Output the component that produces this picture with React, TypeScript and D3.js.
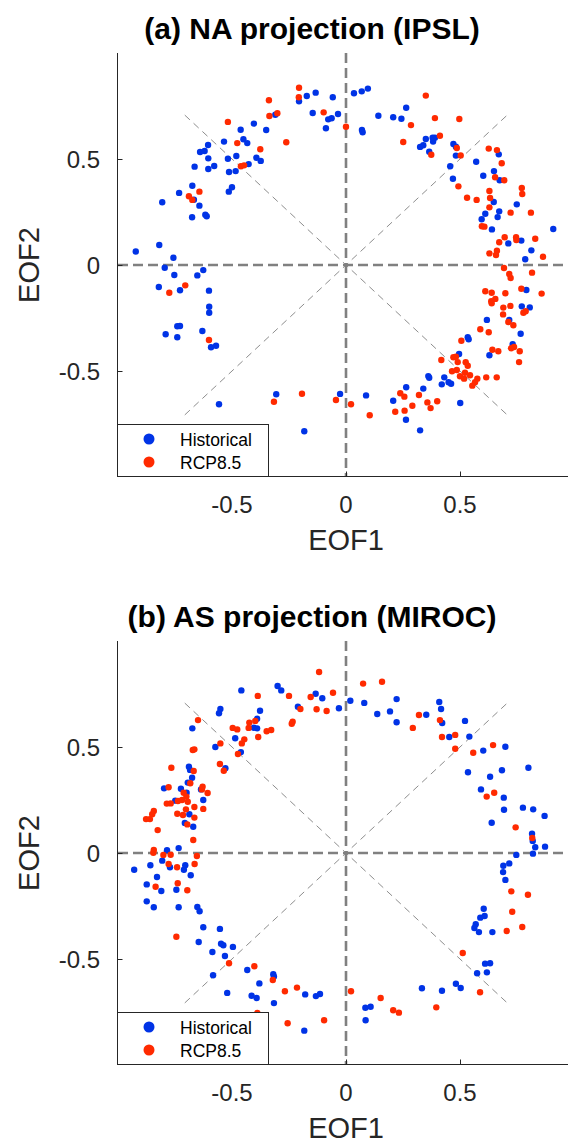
import React from 'react';
import * as d3 from 'd3';

// ---- data (EOF1 / EOF2 projections) ----
const tickValues = [-0.5, 0, 0.5];
const seriesNames = ['Historical', 'RCP8.5'];
const seriesColors = ['#0033e6', '#ff2a00'];
const panelTitles = ['(a) NA projection (IPSL)', '(b) AS projection (MIROC)'];

const naHistEof1 = [-0.172, -0.133, -0.058, -0.206, -0.146, -0.078, -0.063, -0.035, -0.088, -0.310, -0.350, -0.404, -0.462, -0.450, -0.433, -0.535, -0.605, -0.640, -0.620, -0.604, -0.518, -0.481, -0.393, -0.374, -0.427, -0.664, -0.604, -0.578, -0.513, -0.484, -0.500, -0.514, -0.674, -0.732, -0.806, -0.667, -0.643, -0.675, -0.617, -0.611, -0.922, -0.819, -0.757, 0.035, 0.069, 0.096, 0.070, 0.073, 0.142, 0.207, 0.243, 0.264, 0.350, 0.380, 0.390, 0.325, 0.339, 0.382, 0.365, 0.471, 0.482, 0.482, 0.457, 0.469, 0.571, 0.670, 0.649, 0.602, 0.674, 0.648, 0.749, 0.672, 0.611, 0.665, 0.595, 0.640, 0.909, 0.712, 0.769, 0.813, 0.786, -0.795, -0.753, -0.652, -0.626, -0.821, -0.728, -0.601, -0.600, -0.600, -0.740, -0.728, -0.791, -0.740, -0.630, -0.592, -0.570, -0.557, -0.306, -0.026, -0.183, 0.791, 0.771, 0.806, 0.618, 0.716, 0.766, 0.534, 0.538, 0.731, 0.629, 0.496, 0.361, 0.365, 0.431, 0.420, 0.450, 0.461, 0.339, 0.264, 0.088, 0.207, 0.501, 0.263, 0.325];
const naHistEof2 = [0.797, 0.813, 0.791, 0.772, 0.717, 0.687, 0.692, 0.712, 0.645, 0.709, 0.637, 0.667, 0.638, 0.593, 0.575, 0.582, 0.566, 0.533, 0.538, 0.503, 0.501, 0.514, 0.506, 0.491, 0.476, 0.464, 0.453, 0.467, 0.439, 0.443, 0.367, 0.346, 0.374, 0.340, 0.296, 0.308, 0.280, 0.225, 0.237, 0.230, 0.064, 0.094, 0.034, 0.810, 0.819, 0.832, 0.637, 0.626, 0.704, 0.697, 0.690, 0.742, 0.594, 0.600, 0.600, 0.557, 0.565, 0.582, 0.534, 0.571, 0.558, 0.516, 0.466, 0.407, 0.487, 0.522, 0.443, 0.421, 0.400, 0.297, 0.286, 0.253, 0.242, 0.226, 0.216, 0.168, 0.170, 0.102, 0.115, 0.069, 0.027, -0.013, -0.047, -0.049, -0.024, -0.104, -0.119, -0.121, -0.197, -0.225, -0.289, -0.288, -0.327, -0.341, -0.311, -0.388, -0.381, -0.657, -0.610, -0.608, -0.784, -0.118, -0.195, -0.200, -0.259, -0.259, -0.324, -0.341, -0.350, -0.373, -0.426, -0.420, -0.524, -0.532, -0.530, -0.563, -0.553, -0.560, -0.583, -0.577, -0.615, -0.640, -0.651, -0.730, -0.780];

const naRcpEof1 = [-0.206, -0.207, -0.338, -0.336, -0.301, -0.098, 0.000, -0.518, -0.262, -0.477, -0.376, -0.461, -0.447, -0.643, -0.689, -0.674, 0.350, 0.390, 0.497, 0.285, 0.251, 0.412, 0.374, 0.486, 0.503, 0.626, 0.662, 0.683, 0.654, 0.694, 0.493, 0.531, 0.573, 0.629, 0.632, 0.629, 0.771, 0.773, 0.722, 0.811, 0.596, 0.607, 0.696, 0.672, 0.746, 0.747, 0.830, 0.629, 0.662, 0.658, 0.864, -0.705, -0.775, -0.601, -0.193, -0.316, -0.044, 0.022, 0.693, 0.716, 0.722, 0.816, 0.611, 0.639, 0.699, 0.655, 0.637, 0.639, 0.769, 0.858, 0.690, 0.721, 0.689, 0.778, 0.788, 0.712, 0.734, 0.589, 0.626, 0.506, 0.642, 0.668, 0.724, 0.737, 0.762, 0.759, 0.418, 0.471, 0.482, 0.490, 0.525, 0.534, 0.465, 0.486, 0.522, 0.500, 0.518, 0.544, 0.576, 0.566, 0.554, 0.615, 0.661, 0.238, 0.256, 0.320, 0.357, 0.400, 0.371, 0.291, 0.257, 0.216, 0.104];
const naRcpEof2 = [0.836, 0.791, 0.777, 0.703, 0.716, 0.720, 0.652, 0.675, 0.579, 0.575, 0.546, 0.466, 0.470, 0.346, 0.324, 0.307, 0.799, 0.693, 0.689, 0.660, 0.580, 0.610, 0.520, 0.552, 0.517, 0.549, 0.542, 0.480, 0.414, 0.400, 0.371, 0.317, 0.307, 0.349, 0.316, 0.272, 0.363, 0.335, 0.247, 0.247, 0.183, 0.181, 0.131, 0.107, 0.131, 0.118, 0.124, 0.055, 0.067, 0.047, 0.039, -0.096, -0.131, -0.354, -0.607, -0.645, -0.637, -0.657, -0.014, -0.042, -0.061, -0.036, -0.124, -0.131, -0.133, -0.160, -0.171, -0.181, -0.112, -0.135, -0.201, -0.193, -0.233, -0.225, -0.218, -0.269, -0.284, -0.303, -0.317, -0.357, -0.400, -0.407, -0.393, -0.387, -0.407, -0.458, -0.448, -0.435, -0.433, -0.458, -0.459, -0.475, -0.501, -0.495, -0.508, -0.525, -0.536, -0.520, -0.536, -0.553, -0.569, -0.530, -0.530, -0.605, -0.621, -0.613, -0.648, -0.643, -0.675, -0.664, -0.687, -0.692, -0.709];

const asHistEof1 = [-0.459, -0.300, -0.284, -0.133, -0.104, -0.211, -0.031, 0.019, -0.551, -0.557, -0.377, -0.390, -0.404, -0.390, -0.674, -0.486, -0.573, -0.461, -0.689, -0.684, -0.529, -0.675, -0.694, -0.798, -0.724, -0.636, -0.699, -0.749, -0.626, -0.687, -0.707, -0.670, -0.785, -0.734, 0.080, 0.137, 0.193, 0.222, 0.222, 0.352, 0.409, 0.417, 0.422, 0.453, 0.522, 0.541, 0.602, 0.699, 0.535, 0.632, 0.684, 0.800, 0.592, 0.692, 0.693, 0.776, 0.821, 0.871, 0.639, 0.816, 0.819, 0.830, 0.873, 0.820, 0.747, 0.690, 0.716, 0.689, 0.699, 0.604, 0.589, 0.608, 0.569, 0.563, 0.583, 0.642, 0.610, 0.632, 0.618, 0.575, 0.482, 0.503, 0.333, 0.421, 0.085, 0.108, 0.086, -0.929, -0.858, -0.806, -0.772, -0.705, -0.711, -0.681, -0.829, -0.874, -0.810, -0.744, -0.874, -0.843, -0.734, -0.652, -0.642, -0.626, -0.553, -0.646, -0.548, -0.538, -0.496, -0.586, -0.531, -0.433, -0.319, -0.316, -0.583, -0.380, -0.521, -0.414, -0.392, -0.316, -0.179, -0.132, -0.114, -0.183];
const asHistEof2 = [0.767, 0.788, 0.767, 0.751, 0.730, 0.690, 0.683, 0.718, 0.679, 0.659, 0.671, 0.633, 0.591, 0.588, 0.588, 0.541, 0.500, 0.476, 0.407, 0.392, 0.400, 0.355, 0.332, 0.305, 0.303, 0.300, 0.284, 0.247, 0.250, 0.183, 0.142, 0.124, 0.013, 0.023, 0.708, 0.656, 0.668, 0.726, 0.617, 0.652, 0.712, 0.679, 0.613, 0.547, 0.623, 0.549, 0.483, 0.501, 0.381, 0.360, 0.390, 0.402, 0.300, 0.261, 0.204, 0.214, 0.206, 0.175, 0.143, 0.091, 0.057, 0.027, 0.030, -0.003, -0.009, -0.060, -0.049, -0.090, -0.127, -0.263, -0.305, -0.297, -0.336, -0.354, -0.373, -0.373, -0.522, -0.520, -0.563, -0.567, -0.617, -0.637, -0.638, -0.650, -0.730, -0.725, -0.789, -0.079, -0.058, -0.036, -0.067, -0.058, -0.079, -0.105, -0.113, -0.148, -0.179, -0.173, -0.228, -0.256, -0.256, -0.255, -0.275, -0.350, -0.358, -0.420, -0.428, -0.435, -0.443, -0.467, -0.486, -0.552, -0.572, -0.583, -0.577, -0.615, -0.660, -0.673, -0.684, -0.708, -0.667, -0.675, -0.665, -0.838];

const asRcpEof1 = [-0.118, -0.387, -0.250, -0.155, -0.057, -0.200, -0.129, -0.085, -0.234, -0.238, -0.649, -0.424, -0.398, -0.427, -0.497, -0.477, -0.328, -0.348, -0.385, -0.446, -0.457, -0.551, -0.474, -0.672, -0.665, -0.766, -0.553, -0.536, -0.668, -0.683, -0.778, -0.629, -0.632, -0.607, -0.712, -0.700, -0.694, -0.786, -0.769, -0.737, -0.719, -0.665, -0.626, -0.702, -0.843, -0.850, -0.877, -0.860, -0.740, -0.715, -0.665, -0.696, -0.826, -0.670, -0.843, 0.158, 0.075, 0.320, 0.293, 0.412, 0.421, 0.479, 0.479, 0.558, 0.645, 0.617, 0.650, 0.744, 0.817, 0.725, 0.798, 0.729, 0.773, 0.705, 0.512, 0.588, 0.022, 0.152, 0.207, 0.232, 0.396, -0.845, -0.801, -0.769, -0.778, -0.741, -0.654, -0.664, -0.835, -0.738, -0.696, -0.744, -0.513, -0.402, -0.321, -0.268, -0.215, -0.389, -0.256, -0.096];
const asRcpEof2 = [0.854, 0.741, 0.741, 0.736, 0.756, 0.679, 0.678, 0.670, 0.619, 0.610, 0.627, 0.615, 0.623, 0.590, 0.590, 0.583, 0.580, 0.574, 0.547, 0.536, 0.517, 0.517, 0.467, 0.486, 0.489, 0.402, 0.420, 0.388, 0.387, 0.329, 0.310, 0.313, 0.300, 0.283, 0.284, 0.266, 0.242, 0.233, 0.234, 0.245, 0.250, 0.217, 0.208, 0.206, 0.198, 0.183, 0.160, 0.160, 0.185, 0.179, 0.167, 0.135, 0.108, 0.061, 0.014, 0.808, 0.799, 0.651, 0.590, 0.627, 0.547, 0.557, 0.492, 0.473, 0.509, 0.266, 0.284, 0.121, 0.071, -0.181, -0.197, -0.277, -0.349, -0.368, -0.472, -0.657, -0.652, -0.684, -0.742, -0.753, -0.728, 0.001, -0.009, -0.008, -0.052, -0.067, -0.014, -0.052, -0.159, -0.143, -0.176, -0.395, -0.520, -0.534, -0.599, -0.652, -0.635, -0.755, -0.803, -0.789];

// ---- layout ----
const W = 568;
const H = 1142;
const PANEL_STEP = 588;
const FONT = 'Liberation Sans, Arial, Helvetica, sans-serif';
const AXIS_COLOR = '#262626';
const GUIDE_COLOR = '#808080';

function Panel({ offset, title, histX, histY, rcpX, rcpY }) {
  const x = d3.scaleLinear().domain([-1, 1]).range([118, 574]);
  const y = d3.scaleLinear().domain([-1, 1]).range([477 + offset, 53 + offset]);
  const d = Math.SQRT1_2;
  const axisLeft = 117.5;
  const axisBottom = y(-1) - 0.5;

  const hist = histX.map((v, i) => [v, histY[i]]);
  const rcp = rcpX.map((v, i) => [v, rcpY[i]]);

  const legTop = axisBottom - 52;

  return (
    <g>
      <text x={312} y={39 + offset} textAnchor="middle" fontFamily={FONT}
        fontWeight="bold" fontSize={30} fill="#000">{title}</text>

      {/* thin diagonal guides */}
      <g stroke={GUIDE_COLOR} strokeWidth={0.9} strokeDasharray="7 5" fill="none">
        <line x1={x(-d)} y1={y(d)} x2={x(d)} y2={y(-d)} />
        <line x1={x(-d)} y1={y(-d)} x2={x(d)} y2={y(d)} />
      </g>
      {/* thick zero lines */}
      <g stroke={GUIDE_COLOR} strokeWidth={2.6} strokeDasharray="10 5" fill="none">
        <line x1={x(0)} y1={y(1)} x2={x(0)} y2={y(-1)} />
        <line x1={x(-1)} y1={y(0)} x2={x(1)} y2={y(0)} />
      </g>

      <g fill={seriesColors[0]}>
        {hist.map((p, i) => <circle key={i} cx={x(p[0])} cy={y(p[1])} r={3.2} />)}
      </g>
      <g fill={seriesColors[1]}>
        {rcp.map((p, i) => <circle key={i} cx={x(p[0])} cy={y(p[1])} r={3.2} />)}
      </g>

      {/* axes */}
      <g stroke={AXIS_COLOR} strokeWidth={1} fill="none">
        <line x1={axisLeft} y1={y(1)} x2={axisLeft} y2={axisBottom + 0.5} />
        <line x1={axisLeft} y1={axisBottom} x2={W} y2={axisBottom} />
        {tickValues.map(t => (
          <line key={'ly' + t} x1={axisLeft} y1={Math.round(y(t)) + 0.5} x2={axisLeft + 5} y2={Math.round(y(t)) + 0.5} />
        ))}
        {tickValues.map(t => (
          <line key={'lx' + t} x1={Math.round(x(t)) + 0.5} y1={axisBottom} x2={Math.round(x(t)) + 0.5} y2={axisBottom - 5} />
        ))}
      </g>
      <g fontFamily={FONT} fontSize={24} fill={AXIS_COLOR}>
        {tickValues.map(t => (
          <text key={'ty' + t} x={100} y={y(t) + 8.5} textAnchor="end">{d3.format('')(t).replace('−', '-')}</text>
        ))}
        {tickValues.map(t => (
          <text key={'tx' + t} x={x(t)} y={axisBottom + 36.5} textAnchor="middle">{d3.format('')(t).replace('−', '-')}</text>
        ))}
      </g>
      <text x={x(0)} y={axisBottom + 73.5} textAnchor="middle" fontFamily={FONT} fontSize={29} fill={AXIS_COLOR}>EOF1</text>
      <text transform={`translate(39,${y(0)}) rotate(-90)`} textAnchor="middle" fontFamily={FONT} fontSize={29} fill={AXIS_COLOR}>EOF2</text>

      {/* legend */}
      <rect x={axisLeft} y={legTop} width={151} height={52} fill="#fff" stroke={AXIS_COLOR} strokeWidth={1} />
      {seriesNames.map((name, i) => (
        <g key={name}>
          <circle cx={149} cy={legTop + 14.5 + i * 23} r={5.5} fill={seriesColors[i]} />
          <text x={180} y={legTop + 21 + i * 23} fontFamily={FONT} fontSize={17.5} fill="#000">{name}</text>
        </g>
      ))}
    </g>
  );
}

export default function App() {
  return (
    <svg width={W} height={H} viewBox={`0 0 ${W} ${H}`}
      style={{ position: 'absolute', left: 0, top: 0, background: '#fff' }}>
      <rect width={W} height={H} fill="#fff" />
      <Panel offset={0} title={panelTitles[0]} histX={naHistEof1} histY={naHistEof2} rcpX={naRcpEof1} rcpY={naRcpEof2} />
      <Panel offset={PANEL_STEP} title={panelTitles[1]} histX={asHistEof1} histY={asHistEof2} rcpX={asRcpEof1} rcpY={asRcpEof2} />
    </svg>
  );
}
